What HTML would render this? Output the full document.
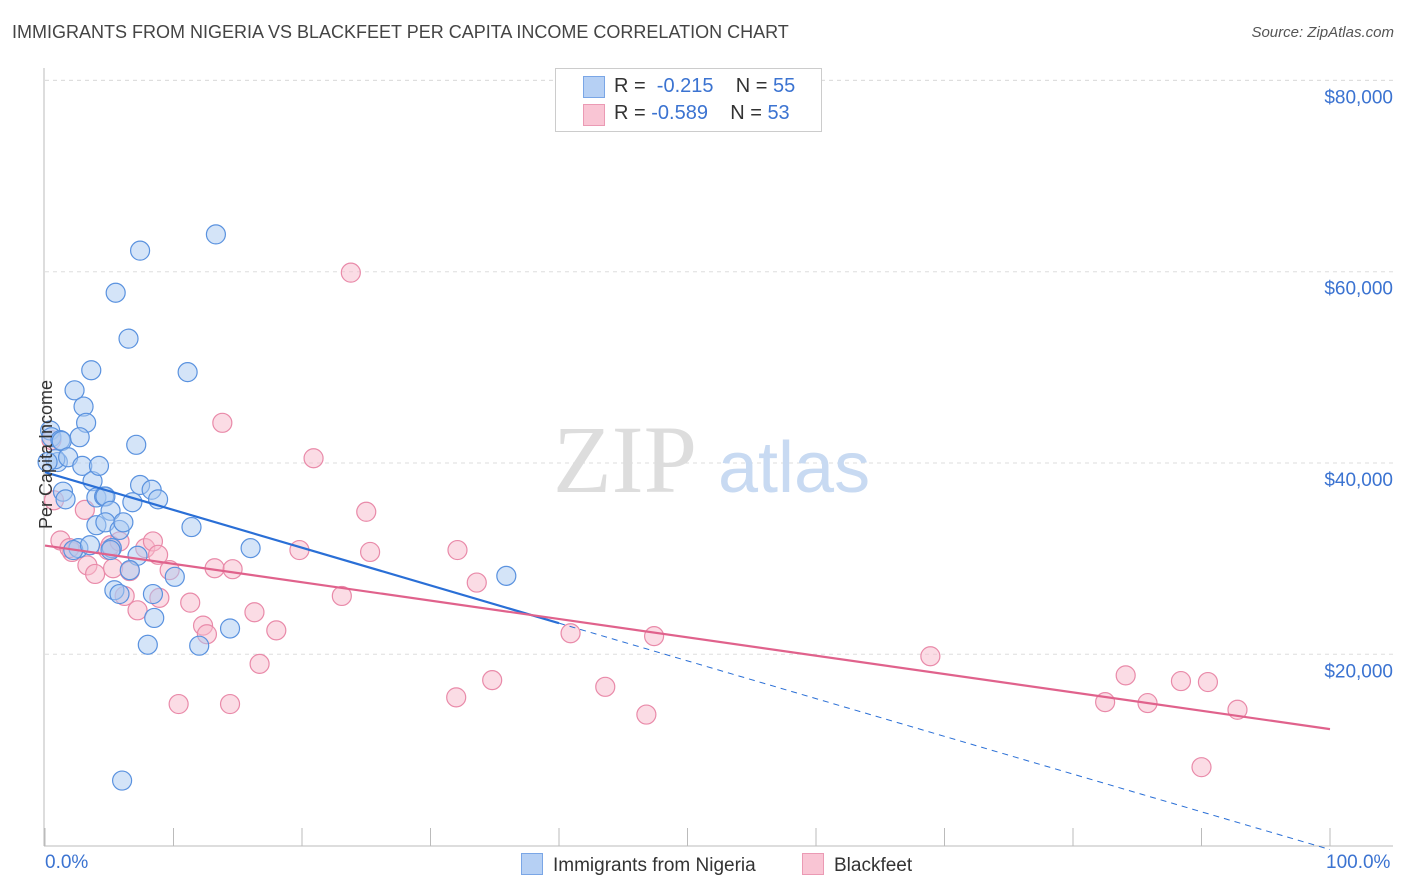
<!DOCTYPE html>
<html><head><meta charset="utf-8"><style>
body{margin:0;background:#fff;font-family:"Liberation Sans",sans-serif}
#wrap{position:relative;width:1406px;height:892px}
.t{position:absolute;white-space:nowrap}
</style></head><body>
<div id="wrap">
<div class="t" style="left:12px;top:22px;font-size:18px;color:#444">IMMIGRANTS FROM NIGERIA VS BLACKFEET PER CAPITA INCOME CORRELATION CHART</div>
<div class="t" style="right:12px;top:24px;font-size:15px;color:#555;font-style:italic">Source: ZipAtlas.com</div>
<svg id="svg" width="1406" height="892" style="position:absolute;left:0;top:0"></svg>
</div>
<script>
const blueX=[0.4,0.5,1.2,1.0,0.8,1.3,1.8,1.4,1.6,2.3,3.0,3.2,2.7,2.9,3.6,3.7,4.0,4.2,4.6,4.0,4.7,5.1,4.7,5.2,5.8,6.1,6.5,5.5,7.4,7.1,7.4,8.3,8.8,6.8,7.2,10.1,8.4,5.4,5.8,6.6,8.0,8.5,11.4,11.1,13.3,12.0,14.4,16.0,35.9,6.0,2.6,2.2,5.1,0.2,3.5];
const blueY=[43.4,42.7,42.4,40.1,40.4,42.3,40.6,37.0,36.2,47.6,45.9,44.2,42.7,39.7,49.7,38.1,36.4,39.7,36.5,33.5,36.5,35.0,33.8,31.1,33.0,33.8,53.0,57.8,62.2,41.9,37.7,37.2,36.2,35.9,30.3,28.1,26.3,26.7,26.3,28.8,21.0,23.8,33.3,49.5,63.9,20.9,22.7,31.1,28.2,6.8,31.1,30.9,30.9,40.1,31.4];
const pinkX=[0.5,0.7,1.2,2.1,1.9,3.1,3.3,3.9,4.9,5.1,5.3,5.8,6.2,6.6,7.2,7.8,8.4,8.8,8.9,9.7,10.4,11.3,12.3,12.6,13.2,13.8,14.6,14.4,16.3,16.7,18.0,19.8,20.9,23.1,25.0,25.3,23.8,32.0,32.1,33.6,34.8,40.9,43.6,46.8,47.4,68.9,82.5,84.1,85.8,88.4,90.5,92.8,90.0];
const pinkY=[42.4,36.1,31.9,30.7,31.1,35.1,29.3,28.4,30.9,31.4,29.0,31.8,26.1,28.7,24.6,31.1,31.8,30.4,25.9,28.8,14.8,25.4,23.0,22.1,29.0,44.2,28.9,14.8,24.4,19.0,22.5,30.9,40.5,26.1,34.9,30.7,59.9,15.5,30.9,27.5,17.3,22.2,16.6,13.7,21.9,19.8,15.0,17.8,14.9,17.2,17.1,14.2,8.2];
const yTicks=[20,40,60,80];
const yTickLabels=["$20,000","$40,000","$60,000","$80,000"];
const xTicks=[0,10,20,30,40,50,60,70,80,90,100];

const NS="http://www.w3.org/2000/svg";
const svg=document.getElementById('svg');
const X=v=>45+v*12.85;
const Y=v=>845.6-v*9.565;
function mk(tag,a,name,parent){const e=document.createElementNS(NS,tag);for(const k in a)e.setAttribute(k,a[k]);


(parent||svg).appendChild(e);return e;}
// grid
yTicks.forEach((t,i)=>{
 mk('line',{x1:45,x2:1393,y1:Y(t),y2:Y(t),stroke:'#ddd','stroke-dasharray':'4,4'},'gridline-y');
 const tx=mk('text',{x:1393,y:Y(t)+23,'text-anchor':'end','font-size':19,fill:'#3b73d1','font-family':'Liberation Sans'},'y-tick-label');
 tx.textContent=yTickLabels[i];
});
mk('line',{x1:45,x2:1393,y1:Y(80),y2:Y(80),stroke:'#ddd','stroke-dasharray':'4,4'},'gridline-top');
mk('line',{x1:44,x2:44,y1:68,y2:846,stroke:'#bbb'},'y-axis');
mk('line',{x1:44,x2:1393,y1:846,y2:846,stroke:'#bbb'},'x-axis');
xTicks.forEach(t=>mk('line',{x1:X(t),x2:X(t),y1:828,y2:846,stroke:'#bbb'},'x-tick'));
// watermark
const wm=mk('text',{x:553,y:492,'font-size':96,fill:'#ddd','font-family':'Liberation Serif'},'watermark-zip');wm.textContent='ZIP';
const wm2=mk('text',{x:718,y:492,'font-size':72,fill:'#c8daf2','font-family':'Liberation Sans'},'watermark-atlas');wm2.textContent='atlas';
// points
function pts(xs,ys,fill,stroke,name){xs.forEach((x,i)=>mk('circle',{cx:X(x),cy:Y(ys[i]),r:9.5,fill:fill,'fill-opacity':0.5,stroke:stroke,'stroke-width':1.2},name));}
pts(pinkX,pinkY,'#f7b9cc','#e98aa9','point-blackfeet');
pts(blueX,blueY,'#a9c9f1','#5a92df','point-nigeria');
function reg(xs,ys){const n=xs.length;let sx=0,sy=0,sxx=0,sxy=0;for(let i=0;i<n;i++){sx+=xs[i];sy+=ys[i];sxx+=xs[i]*xs[i];sxy+=xs[i]*ys[i];}
const b=(n*sxy-sx*sy)/(n*sxx-sx*sx);return [(sy-b*sx)/n,b];}
const [ba,bb]=reg(blueX,blueY);
mk('line',{x1:X(0),y1:Y(ba),x2:X(40),y2:Y(ba+bb*40),stroke:'#2a6fd6','stroke-width':2.2},'trendline-nigeria');
mk('line',{x1:X(40),y1:Y(ba+bb*40),x2:X(100),y2:Y(ba+bb*100),stroke:'#2a6fd6','stroke-width':1,'stroke-dasharray':'6,5'},'trendline-nigeria-extension');
const [pa,pb]=reg(pinkX,pinkY);
mk('line',{x1:X(0),y1:Y(pa),x2:X(100),y2:Y(pa+pb*100),stroke:'#e0628c','stroke-width':2.2},'trendline-blackfeet');
</script>
<div class="t" style="left:-28px;top:444px;font-size:18px;color:#333;transform:rotate(-90deg)">Per Capita Income</div>
<div class="t" style="left:45px;top:852px;font-size:19px;color:#3b73d1">0.0%</div>
<div class="t" style="left:1326px;top:852px;font-size:19px;color:#3b73d1">100.0%</div>
<div style="position:absolute;left:555px;top:68px;width:265px;height:62px;border:1px solid #ccc;background:#fff;font-size:20px;color:#333">
 <div style="position:absolute;left:27px;top:7px;width:20px;height:20px;background:#b6d0f4;border:1px solid #7aa6e6"></div>
 <div class="t" style="left:58px;top:6px">R = &nbsp;<span style="color:#3b73d1">-0.215</span>&nbsp;&nbsp;&nbsp; N = <span style="color:#3b73d1">55</span></div>
 <div style="position:absolute;left:27px;top:35px;width:20px;height:20px;background:#f9c5d4;border:1px solid #eb9ab4"></div>
 <div class="t" style="left:58px;top:33px">R = <span style="color:#3b73d1">-0.589</span>&nbsp;&nbsp;&nbsp; N = <span style="color:#3b73d1">53</span></div>
</div>
<div style="position:absolute;left:521px;top:853px;font-size:19px;color:#333">
 <span style="display:inline-block;width:20px;height:20px;background:#b6d0f4;border:1px solid #7aa6e6;vertical-align:-4px;margin-right:10px"></span>Immigrants from Nigeria</div>
<div style="position:absolute;left:802px;top:853px;font-size:19px;color:#333">
 <span style="display:inline-block;width:20px;height:20px;background:#f9c5d4;border:1px solid #eb9ab4;vertical-align:-4px;margin-right:10px"></span>Blackfeet</div>
</body></html>
